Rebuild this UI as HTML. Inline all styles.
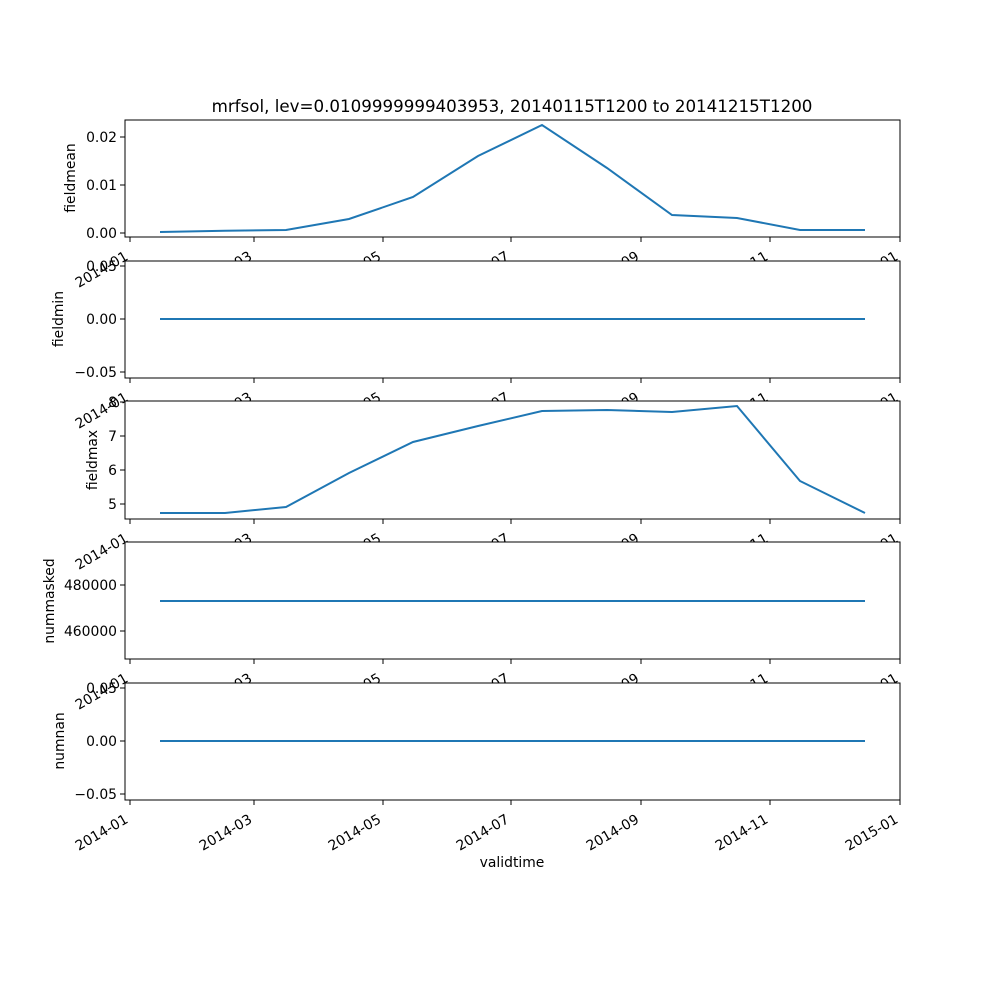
<!DOCTYPE html>
<html><head><meta charset="utf-8"><style>body{margin:0;background:#fff}svg{display:block}text{font-family:"DejaVu Sans","Liberation Sans",sans-serif;font-size:13.9px;fill:#000}</style></head>
<body>
<svg width="1000" height="1000" viewBox="0 0 1000 1000" xmlns="http://www.w3.org/2000/svg">
<text x="512" y="112" text-anchor="middle" style="font-size:16.7px">mrfsol, lev=0.0109999999403953, 20140115T1200 to 20141215T1200</text>

<!-- panel 1 -->
<g>
<rect x="125" y="120" width="775" height="117" fill="#fff"/>
<polyline fill="none" stroke="#1f77b4" stroke-width="2" points="160,232 225,230.7 286,230 349,219 413,197 478,156 542,125 607,168 672,215 737,218 800,230 865,230"/>
<rect x="125" y="120" width="775" height="117" fill="none" stroke="#000" stroke-width="1"/>
<g stroke="#000"><line x1="120" x2="125" y1="233" y2="233"/><line x1="120" x2="125" y1="185" y2="185"/><line x1="120" x2="125" y1="137" y2="137"/></g>
<text x="117" y="238" text-anchor="end">0.00</text><text x="117" y="190" text-anchor="end">0.01</text><text x="117" y="142" text-anchor="end">0.02</text>
<text transform="translate(75,178) rotate(-90)" text-anchor="middle">fieldmean</text>
<g stroke="#000"><line x1="130" x2="130" y1="237" y2="242"/><line x1="254" x2="254" y1="237" y2="242"/><line x1="383" x2="383" y1="237" y2="242"/><line x1="511" x2="511" y1="237" y2="242"/><line x1="641" x2="641" y1="237" y2="242"/><line x1="770" x2="770" y1="237" y2="242"/><line x1="900" x2="900" y1="237" y2="242"/></g>
<g text-anchor="end"><text transform="translate(129,259) rotate(-30)">2014-01</text><text transform="translate(253,259) rotate(-30)">2014-03</text><text transform="translate(382,259) rotate(-30)">2014-05</text><text transform="translate(510,259) rotate(-30)">2014-07</text><text transform="translate(640,259) rotate(-30)">2014-09</text><text transform="translate(769,259) rotate(-30)">2014-11</text><text transform="translate(899,259) rotate(-30)">2015-01</text></g>
</g>

<!-- panel 2 -->
<g>
<rect x="125" y="261" width="775" height="117" fill="#fff"/>
<line x1="160" x2="865" y1="319" y2="319" stroke="#1f77b4" stroke-width="2"/>
<rect x="125" y="261" width="775" height="117" fill="none" stroke="#000" stroke-width="1"/>
<g stroke="#000"><line x1="120" x2="125" y1="266" y2="266"/><line x1="120" x2="125" y1="319" y2="319"/><line x1="120" x2="125" y1="372" y2="372"/></g>
<text x="117" y="271" text-anchor="end">0.05</text><text x="117" y="324" text-anchor="end">0.00</text><text x="117" y="377" text-anchor="end">−0.05</text>
<text transform="translate(63,319) rotate(-90)" text-anchor="middle">fieldmin</text>
<g stroke="#000"><line x1="130" x2="130" y1="378" y2="383"/><line x1="254" x2="254" y1="378" y2="383"/><line x1="383" x2="383" y1="378" y2="383"/><line x1="511" x2="511" y1="378" y2="383"/><line x1="641" x2="641" y1="378" y2="383"/><line x1="770" x2="770" y1="378" y2="383"/><line x1="900" x2="900" y1="378" y2="383"/></g>
<g text-anchor="end"><text transform="translate(129,400) rotate(-30)">2014-01</text><text transform="translate(253,400) rotate(-30)">2014-03</text><text transform="translate(382,400) rotate(-30)">2014-05</text><text transform="translate(510,400) rotate(-30)">2014-07</text><text transform="translate(640,400) rotate(-30)">2014-09</text><text transform="translate(769,400) rotate(-30)">2014-11</text><text transform="translate(899,400) rotate(-30)">2015-01</text></g>
</g>

<!-- panel 3 -->
<g>
<rect x="125" y="401" width="775" height="118" fill="#fff"/>
<polyline fill="none" stroke="#1f77b4" stroke-width="2" points="160,513 225,513 286,507 349,473 413,442 478,426 542,411 607,410 672,412 737,406 800,481 865,513"/>
<rect x="125" y="401" width="775" height="118" fill="none" stroke="#000" stroke-width="1"/>
<g stroke="#000"><line x1="120" x2="125" y1="504" y2="504"/><line x1="120" x2="125" y1="470" y2="470"/><line x1="120" x2="125" y1="436" y2="436"/><line x1="120" x2="125" y1="402" y2="402"/></g>
<text x="117" y="509" text-anchor="end">5</text><text x="117" y="475" text-anchor="end">6</text><text x="117" y="441" text-anchor="end">7</text><text x="117" y="407" text-anchor="end">8</text>
<text transform="translate(97,460) rotate(-90)" text-anchor="middle">fieldmax</text>
<g stroke="#000"><line x1="130" x2="130" y1="519" y2="524"/><line x1="254" x2="254" y1="519" y2="524"/><line x1="383" x2="383" y1="519" y2="524"/><line x1="511" x2="511" y1="519" y2="524"/><line x1="641" x2="641" y1="519" y2="524"/><line x1="770" x2="770" y1="519" y2="524"/><line x1="900" x2="900" y1="519" y2="524"/></g>
<g text-anchor="end"><text transform="translate(129,541) rotate(-30)">2014-01</text><text transform="translate(253,541) rotate(-30)">2014-03</text><text transform="translate(382,541) rotate(-30)">2014-05</text><text transform="translate(510,541) rotate(-30)">2014-07</text><text transform="translate(640,541) rotate(-30)">2014-09</text><text transform="translate(769,541) rotate(-30)">2014-11</text><text transform="translate(899,541) rotate(-30)">2015-01</text></g>
</g>

<!-- panel 4 -->
<g>
<rect x="125" y="542" width="775" height="117" fill="#fff"/>
<line x1="160" x2="865" y1="601" y2="601" stroke="#1f77b4" stroke-width="2"/>
<rect x="125" y="542" width="775" height="117" fill="none" stroke="#000" stroke-width="1"/>
<g stroke="#000"><line x1="120" x2="125" y1="585" y2="585"/><line x1="120" x2="125" y1="631" y2="631"/></g>
<text x="117" y="590" text-anchor="end">480000</text><text x="117" y="636" text-anchor="end">460000</text>
<text transform="translate(54,601) rotate(-90)" text-anchor="middle">nummasked</text>
<g stroke="#000"><line x1="130" x2="130" y1="659" y2="664"/><line x1="254" x2="254" y1="659" y2="664"/><line x1="383" x2="383" y1="659" y2="664"/><line x1="511" x2="511" y1="659" y2="664"/><line x1="641" x2="641" y1="659" y2="664"/><line x1="770" x2="770" y1="659" y2="664"/><line x1="900" x2="900" y1="659" y2="664"/></g>
<g text-anchor="end"><text transform="translate(129,681) rotate(-30)">2014-01</text><text transform="translate(253,681) rotate(-30)">2014-03</text><text transform="translate(382,681) rotate(-30)">2014-05</text><text transform="translate(510,681) rotate(-30)">2014-07</text><text transform="translate(640,681) rotate(-30)">2014-09</text><text transform="translate(769,681) rotate(-30)">2014-11</text><text transform="translate(899,681) rotate(-30)">2015-01</text></g>
</g>

<!-- panel 5 -->
<g>
<rect x="125" y="683" width="775" height="117" fill="#fff"/>
<line x1="160" x2="865" y1="741" y2="741" stroke="#1f77b4" stroke-width="2"/>
<rect x="125" y="683" width="775" height="117" fill="none" stroke="#000" stroke-width="1"/>
<g stroke="#000"><line x1="120" x2="125" y1="688" y2="688"/><line x1="120" x2="125" y1="741" y2="741"/><line x1="120" x2="125" y1="794" y2="794"/></g>
<text x="117" y="693" text-anchor="end">0.05</text><text x="117" y="746" text-anchor="end">0.00</text><text x="117" y="799" text-anchor="end">−0.05</text>
<text transform="translate(64,741) rotate(-90)" text-anchor="middle">numnan</text>
<g stroke="#000"><line x1="130" x2="130" y1="800" y2="805"/><line x1="254" x2="254" y1="800" y2="805"/><line x1="383" x2="383" y1="800" y2="805"/><line x1="511" x2="511" y1="800" y2="805"/><line x1="641" x2="641" y1="800" y2="805"/><line x1="770" x2="770" y1="800" y2="805"/><line x1="900" x2="900" y1="800" y2="805"/></g>
<g text-anchor="end"><text transform="translate(129,822) rotate(-30)">2014-01</text><text transform="translate(253,822) rotate(-30)">2014-03</text><text transform="translate(382,822) rotate(-30)">2014-05</text><text transform="translate(510,822) rotate(-30)">2014-07</text><text transform="translate(640,822) rotate(-30)">2014-09</text><text transform="translate(769,822) rotate(-30)">2014-11</text><text transform="translate(899,822) rotate(-30)">2015-01</text></g>
<text x="512" y="867" text-anchor="middle">validtime</text>
</g>
</svg>
</body></html>
